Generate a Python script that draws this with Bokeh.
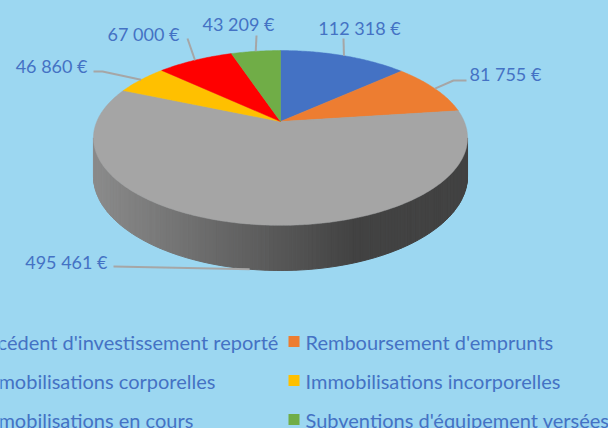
import math
from bokeh.plotting import figure
from bokeh.models import Range1d, GlobalInlineStyleSheet
from bokeh.core.properties import value
from bokeh.embed import file_html
from bokeh.resources import INLINE

# ---------------- data ----------------
categories = [
    "Excédent d'investissement reporté",
    "Remboursement d'emprunts",
    "Immobilisations corporelles",
    "Immobilisations incorporelles",
    "Immobilisations en cours",
    "Subventions d'équipement versées",
]
amounts = [112318, 81755, 495461, 46860, 67000, 43209]
colors = ["#4472C4", "#ED7D31", "#A5A5A5", "#FFC000", "#FF0000", "#70AD47"]

# ---------------- style / layout ----------------
BG = "#9CD7F1"
TXT = "#4472C4"
LEADER = "#A6A6A6"
FONT = "Lato"
FSIZE = "20px"
LSIZE = "18px"

W, H = 608, 428

# 3D pie projection (screen pixels)
CX, CY = 280.0, 121.0
A, B, U, D = 183.7, 84.3, 0.188, 36.7

def proj(theta_deg, depth=0.0):
    t = math.radians(theta_deg)
    den = 1.0 + U * math.cos(t)
    return CX + A * math.sin(t) / den, CY + (-B * math.cos(t) + depth) / den

def hex2rgb(h):
    h = h.lstrip("#")
    return tuple(int(h[i:i + 2], 16) for i in (0, 2, 4))

def rgb2hex(c):
    return "#%02x%02x%02x" % tuple(max(0, min(255, int(round(v)))) for v in c)

p = figure(width=W, height=H, x_range=Range1d(0, W), y_range=Range1d(H, 0),
           output_backend="svg", toolbar_location=None, min_border=0,
           x_axis_location=None, y_axis_location=None)
p.grid.visible = False
p.outline_line_color = None
p.background_fill_color = BG
p.border_fill_color = BG
p.stylesheets = [GlobalInlineStyleSheet(css="body{background-color:%s;}" % BG)]

total = float(sum(amounts))
starts, ends = [], []
acc = 0.0
for v in amounts:
    starts.append(acc / total * 360.0)
    acc += v
    ends.append(acc / total * 360.0)

# ---------------- side wall (front, gradient) ----------------
th_lo = 180.0 - math.degrees(math.acos(U))
th_hi = 180.0 + math.degrees(math.acos(U))
N = 160
wxs, wys, wcols = [], [], []
for i in range(N):
    a0 = th_lo + (th_hi - th_lo) * i / N
    a1 = th_lo + (th_hi - th_lo) * (i + 1) / N
    am = 0.5 * (a0 + a1)
    k = 0
    for j in range(len(amounts)):
        if starts[j] <= am < ends[j]:
            k = j
    x0, y0 = proj(a0)
    x1, y1 = proj(a1)
    x2, y2 = proj(a1, D)
    x3, y3 = proj(a0, D)
    xm = 0.5 * (x0 + x1)
    shade = max(66.0, 138.0 - 0.28 * (xm - 97.0)) / 165.0
    base = hex2rgb(colors[k])
    wxs.append([x0, x1, x2, x3])
    wys.append([y0, y1, y2, y3])
    wcols.append(rgb2hex([c * shade for c in base]))
p.patches(wxs, wys, fill_color=wcols, line_color=wcols, line_width=1)

# ---------------- top faces ----------------
txs, tys = [], []
for s, e in zip(starts, ends):
    n = max(6, int((e - s) * 1.5))
    pts = [proj(s + (e - s) * i / n) for i in range(n + 1)]
    txs.append([CX] + [q[0] for q in pts])
    tys.append([CY] + [q[1] for q in pts])
p.patches(txs, tys, fill_color=colors, line_color=colors, line_width=0.5)

# ---------------- data labels with leader lines ----------------
label_pos = [(359, 27, "center"), (469, 73, "left"), (107, 261, "right"),
             (87, 65, "right"), (143, 33, "center"), (238, 23, "center")]
leader_ends = [[(343, 38)], [(453, 80), (466, 80)], [(113, 266)],
               [(102, 71), (93, 71)], [(187, 38)], [(256, 35)]]

def fmt(v):
    return "{:,}".format(v).replace(",", "\u00a0") + "\u00a0€"

for i, v in enumerate(amounts):
    mid = 0.5 * (starts[i] + ends[i])
    depth = D if th_lo <= mid <= th_hi else 0.0
    sx, sy = proj(mid, depth)
    lx = [sx] + [q[0] for q in leader_ends[i]]
    ly = [sy] + [q[1] for q in leader_ends[i]]
    p.line(lx, ly, line_color=LEADER, line_width=2)
    tx, ty, al = label_pos[i]
    p.text([tx], [ty], text=[fmt(v)], text_font=value(FONT), text_font_size=LSIZE,
           text_color=TXT, text_align=al, text_baseline="middle")

# ---------------- legend (two columns, left one cut by the border) ----------------
ROWS = [341, 380, 419]
COLW = 329
TEXT_X = 305
MARK_X = 293.5
lx, ly, lt, mx, my, mc = [], [], [], [], [], []
for i, name in enumerate(categories):
    col, row = i % 2, i // 2
    off = 0 if col == 1 else -COLW
    lx.append(TEXT_X + off)
    ly.append(ROWS[row])
    lt.append(name)
    mx.append(MARK_X + off)
    my.append(ROWS[row])
    mc.append(colors[i])
p.rect(mx, my, width=11, height=11, fill_color=mc, line_color=None)
p.text(lx, ly, text=lt, text_font=value(FONT), text_font_size=FSIZE,
       text_color=TXT, text_align="left", text_baseline="middle")

open("out.html", "w").write(file_html(p, INLINE))
